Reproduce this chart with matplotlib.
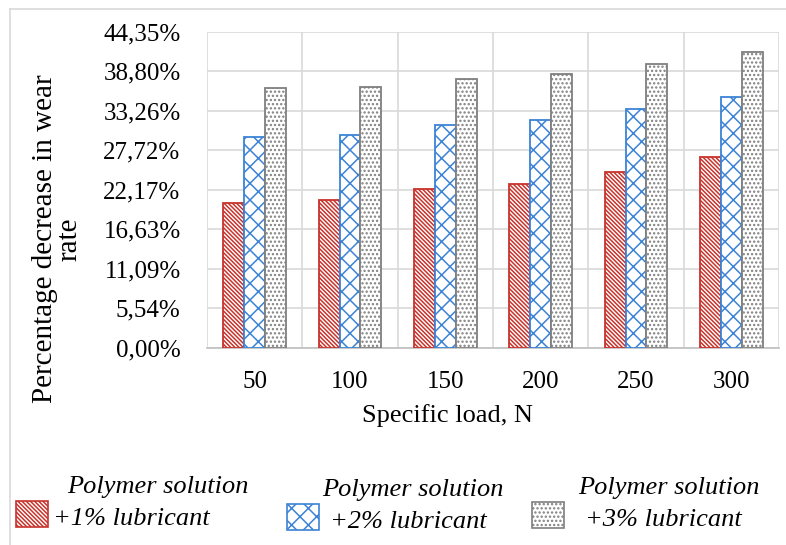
import numpy as np
import matplotlib
matplotlib.use("Agg")
import matplotlib.pyplot as plt
from matplotlib.patches import Rectangle
from matplotlib.lines import Line2D

# data (percent decrease in wear rate)
loads = ["50", "100", "150", "200", "250", "300"]
lub_1 = [20.3, 20.7, 22.3, 23.0, 24.7, 26.8]
lub_2 = [29.5, 29.9, 31.2, 31.9, 33.5, 35.2]
lub_3 = [36.4, 36.6, 37.7, 38.4, 39.8, 41.5]
y_max = 44.35
y_labels = ["0,00%", "5,54%", "11,09%", "16,63%", "22,17%",
            "27,72%", "33,26%", "38,80%", "44,35%"]
series_names = ["+1% lubricant", "+2% lubricant", "+3% lubricant"]

red = "#C8332B"
blue = "#3C83D6"
gray = "#7F7F7F"
grid_c = "#D9D9D9"

plt.rcParams["font.family"] = ["Liberation Serif", "DejaVu Serif"]
plt.rcParams["hatch.linewidth"] = 1.1

fig = plt.figure(figsize=(7.86, 5.45), dpi=100)
ax = fig.add_axes([207 / 786, 1 - 347.5 / 545, 572 / 786, (347.5 - 31.7) / 545])

x = np.arange(len(loads))
w = 0.22
styles = [(lub_1, red, "\\" * 8), (lub_2, blue, "xx"), (lub_3, gray, "....")]
for i, (vals, col, hatch) in enumerate(styles):
    ax.bar(x + (i - 1) * w, vals, w, facecolor="white", edgecolor=col,
           hatch=hatch, linewidth=1.3, zorder=3)

ax.set_xlim(-0.5, len(loads) - 0.5)
ax.set_ylim(0, y_max)
ax.set_yticks(np.linspace(0, y_max, len(y_labels)))
ax.set_yticklabels(y_labels, fontsize=18)
ax.set_xticks(x)
ax.set_xticklabels(loads, fontsize=18)
ax.tick_params(length=0)
ax.tick_params(axis="y", pad=19)
ax.tick_params(axis="x", pad=17)

# gridlines: horizontal at ticks, vertical at category borders
ax.grid(axis="y", color=grid_c, linewidth=1.2, zorder=0)
for b in np.arange(-0.5, len(loads), 1.0):
    ax.axvline(b, color=grid_c, linewidth=1.2, zorder=0)
for s in ["top", "right", "left"]:
    ax.spines[s].set_visible(False)
ax.spines["bottom"].set_color("#BFBFBF")
ax.spines["bottom"].set_linewidth(1.2)

fig.text(447 / 786, 1 - 416 / 545, "Specific load, N", fontsize=19,
         ha="center", va="center")
fig.text(57 / 786, 1 - 239 / 545, "Percentage decrease in wear\nrate",
         rotation=90, ha="center", va="center", multialignment="center",
         fontsize=21, linespacing=0.92)

# chart border
fig.add_artist(Line2D([10 / 786, 1.0], [1 - 9 / 545] * 2, color=grid_c,
                      linewidth=1.2, transform=fig.transFigure))
fig.add_artist(Line2D([10 / 786] * 2, [0, 1 - 9 / 545], color=grid_c,
                      linewidth=1.2, transform=fig.transFigure))

# legend
leg_pos = [(16, 501, 67, 53), (287, 504, 322, 330), (532, 502, 578, 585)]
for (px, py, tx1, tx2), (vals, col, hatch), name in zip(leg_pos, styles, series_names):
    fig.add_artist(Rectangle((px / 786, 1 - (py + 26) / 545), 32 / 786, 26 / 545,
                             facecolor="white", edgecolor=col, hatch=hatch,
                             linewidth=1.2, transform=fig.transFigure))
    fig.text(tx1 / 786, 1 - (py - 14) / 545, "Polymer solution", style="italic",
             fontsize=19, ha="left", va="center")
    fig.text(tx2 / 786, 1 - (py + 18) / 545, name, style="italic",
             fontsize=19, ha="left", va="center")

fig.savefig("out.png", dpi=100)
